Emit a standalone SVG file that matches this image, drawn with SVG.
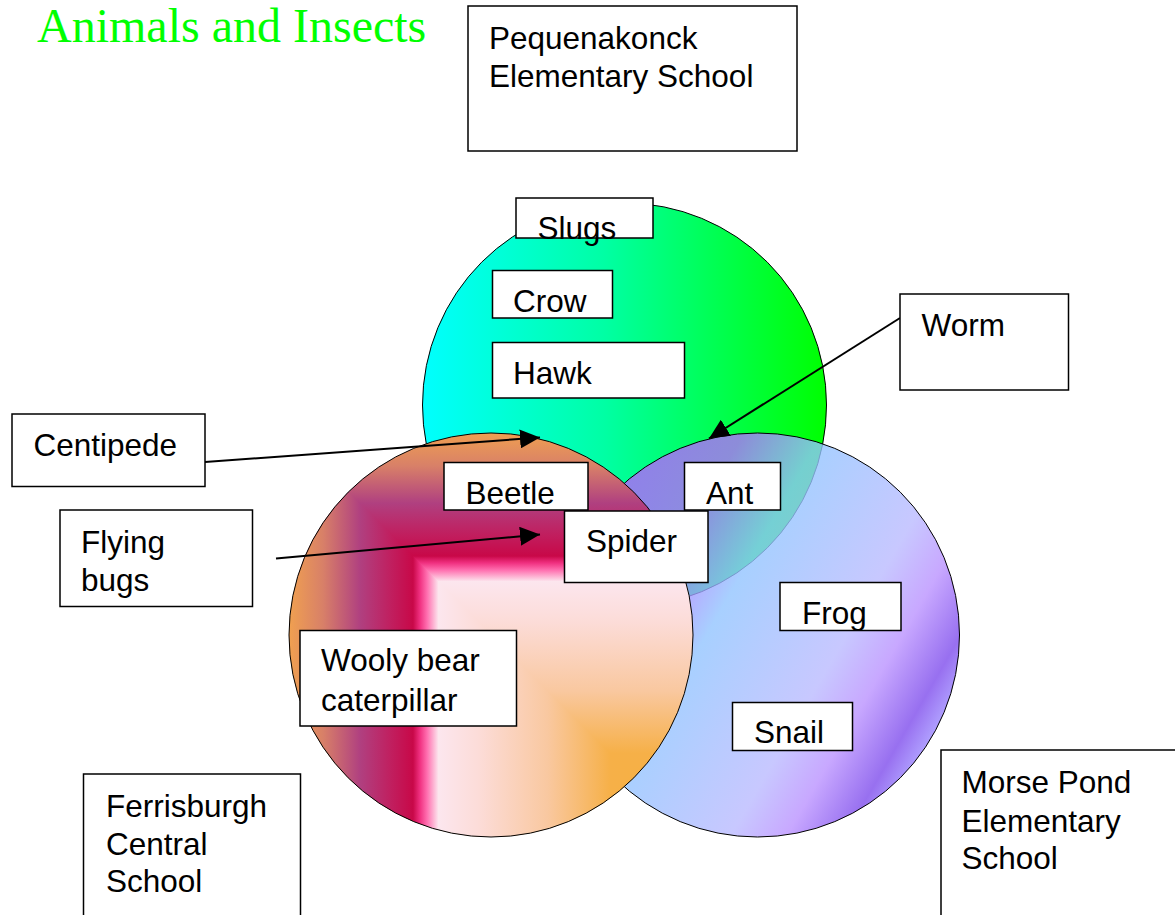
<svg xmlns="http://www.w3.org/2000/svg" width="1175" height="915" viewBox="0 0 1175 915">
<style>
.box{fill:#ffffff;stroke:#000000;stroke-width:1.5}
.lbl{font-family:"Liberation Sans",Arial,sans-serif;font-size:31.5px;fill:#000000}
.circ{fill:none;stroke:#000000;stroke-width:1}
.conn{stroke:#000000;stroke-width:2;fill:none}
.title{font-family:"Liberation Serif","Times New Roman",serif;font-size:48px;fill:#00ff00}
</style>
<defs>
<marker id="arr" markerUnits="userSpaceOnUse" markerWidth="20" markerHeight="19" viewBox="0 0 20 19" refX="20" refY="9.5" orient="auto">
<path d="M0,0 L20,9.5 L0,19 Z" fill="#000000"/>
</marker>
<linearGradient id="greenG" gradientUnits="userSpaceOnUse" x1="422" y1="0" x2="827" y2="0">
<stop offset="0" stop-color="#00ffff"/>
<stop offset="0.45" stop-color="#00ffa4"/>
<stop offset="1" stop-color="#00ff00"/>
</linearGradient>
<linearGradient id="orV" gradientUnits="userSpaceOnUse" x1="0" y1="836" x2="0" y2="432">
<stop offset="0" stop-color="#f6b040"/>
<stop offset="0.205" stop-color="#f6b048"/>
<stop offset="0.36" stop-color="#f9c8a0"/>
<stop offset="0.53" stop-color="#fcdcd8"/>
<stop offset="0.63" stop-color="#fce6ee"/>
<stop offset="0.658" stop-color="#ff70b0"/>
<stop offset="0.676" stop-color="#f03080"/>
<stop offset="0.693" stop-color="#c80848"/>
<stop offset="0.75" stop-color="#c02060"/>
<stop offset="0.824" stop-color="#b04080"/>
<stop offset="0.916" stop-color="#d88068"/>
<stop offset="1" stop-color="#f0a050"/>
</linearGradient>
<linearGradient id="orH" gradientUnits="userSpaceOnUse" x1="693" y1="0" x2="289" y2="0">
<stop offset="0" stop-color="#f6b040"/>
<stop offset="0.205" stop-color="#f6b048"/>
<stop offset="0.36" stop-color="#f9c8a0"/>
<stop offset="0.53" stop-color="#fcdcd8"/>
<stop offset="0.63" stop-color="#fce6ee"/>
<stop offset="0.658" stop-color="#ff70b0"/>
<stop offset="0.676" stop-color="#f03080"/>
<stop offset="0.693" stop-color="#c80848"/>
<stop offset="0.75" stop-color="#c02060"/>
<stop offset="0.824" stop-color="#b04080"/>
<stop offset="0.916" stop-color="#d88068"/>
<stop offset="1" stop-color="#f0a050"/>
</linearGradient>
<linearGradient id="blueG" gradientUnits="userSpaceOnUse" x1="583" y1="534" x2="933" y2="736">
<stop offset="0" stop-color="#b460ff"/>
<stop offset="0.22" stop-color="#b070ff"/>
<stop offset="0.39" stop-color="#92c4ff"/>
<stop offset="0.54" stop-color="#a6bfff"/>
<stop offset="0.69" stop-color="#babaff"/>
<stop offset="0.81" stop-color="#ba92ff"/>
<stop offset="0.935" stop-color="#7e4cec"/>
<stop offset="1" stop-color="#9c88ff"/>
</linearGradient>
<clipPath id="orClip"><circle cx="491" cy="635" r="202"/></clipPath>
</defs>

<text class="title" x="37" y="42">Animals and Insects</text>

<g id="circle-pequenakonck">
<circle cx="624.5" cy="405" r="202" fill="url(#greenG)" stroke="#000000" stroke-width="1"/>
</g>
<g id="circle-morse-pond">
<circle cx="757.5" cy="635" r="202" fill="url(#blueG)" fill-opacity="0.8" stroke="#000000" stroke-width="1"/>
</g>
<g id="circle-ferrisburgh">
<g clip-path="url(#orClip)">
<rect x="280" y="420" width="430" height="430" fill="url(#orV)"/>
<polygon points="280,423 720,863 280,863" fill="url(#orH)"/>
</g>
<circle class="circ" cx="491" cy="635" r="202"/>
</g>

<g id="connectors">
<line class="conn" x1="205" y1="462" x2="540" y2="437.5" marker-end="url(#arr)"/>
<line class="conn" x1="276" y1="558.5" x2="540" y2="534.5" marker-end="url(#arr)"/>
<line class="conn" x1="900" y1="318" x2="709" y2="438.5" marker-end="url(#arr)"/>
</g>

<g id="pequenakonck">
<rect class="box" x="468" y="6" width="329" height="145"/>
<text class="lbl" x="489" y="49">Pequenakonck</text>
<text class="lbl" x="489" y="87">Elementary School</text>
</g>
<g id="slugs">
<rect class="box" x="516" y="198" width="137" height="40"/>
<text class="lbl" x="537.5" y="239">Slugs</text>
</g>
<g id="crow">
<rect class="box" x="492.5" y="270.5" width="120" height="47.5"/>
<text class="lbl" x="513" y="311.5">Crow</text>
</g>
<g id="hawk">
<rect class="box" x="492.5" y="342.5" width="192" height="55.5"/>
<text class="lbl" x="513" y="383.5">Hawk</text>
</g>
<g id="worm">
<rect class="box" x="900" y="294" width="168.5" height="96"/>
<text class="lbl" x="921.5" y="336">Worm</text>
</g>
<g id="centipede">
<rect class="box" x="12" y="414" width="193" height="72.5"/>
<text class="lbl" x="33.5" y="456">Centipede</text>
</g>
<g id="flying-bugs">
<rect class="box" x="60" y="510" width="192.5" height="96.5"/>
<text class="lbl" x="81" y="553">Flying</text>
<text class="lbl" x="81" y="591">bugs</text>
</g>
<g id="beetle">
<rect class="box" x="444" y="462.5" width="144" height="47.5"/>
<text class="lbl" x="465.5" y="503.5">Beetle</text>
</g>
<g id="ant">
<rect class="box" x="684.5" y="462.5" width="96" height="47.5"/>
<text class="lbl" x="706" y="503.5">Ant</text>
</g>
<g id="spider">
<rect class="box" x="564.5" y="511" width="143.5" height="71.5"/>
<text class="lbl" x="586" y="551.5">Spider</text>
</g>
<g id="frog">
<rect class="box" x="780" y="582.5" width="121" height="48"/>
<text class="lbl" x="802" y="623.5">Frog</text>
</g>
<g id="wooly-bear">
<rect class="box" x="300" y="630.5" width="216.5" height="95.5"/>
<text class="lbl" x="321" y="671">Wooly bear</text>
<text class="lbl" x="321" y="710.5">caterpillar</text>
</g>
<g id="snail">
<rect class="box" x="732.5" y="702.5" width="120" height="48"/>
<text class="lbl" x="754" y="743">Snail</text>
</g>
<g id="ferrisburgh">
<rect class="box" x="83.5" y="774" width="217" height="170"/>
<text class="lbl" x="106" y="816.5">Ferrisburgh</text>
<text class="lbl" x="106" y="855">Central</text>
<text class="lbl" x="106" y="892">School</text>
</g>
<g id="morse-pond">
<rect class="box" x="941" y="750" width="260" height="200"/>
<text class="lbl" x="961.5" y="793">Morse Pond</text>
<text class="lbl" x="961.5" y="831.5">Elementary</text>
<text class="lbl" x="961.5" y="868.5">School</text>
</g>
</svg>
